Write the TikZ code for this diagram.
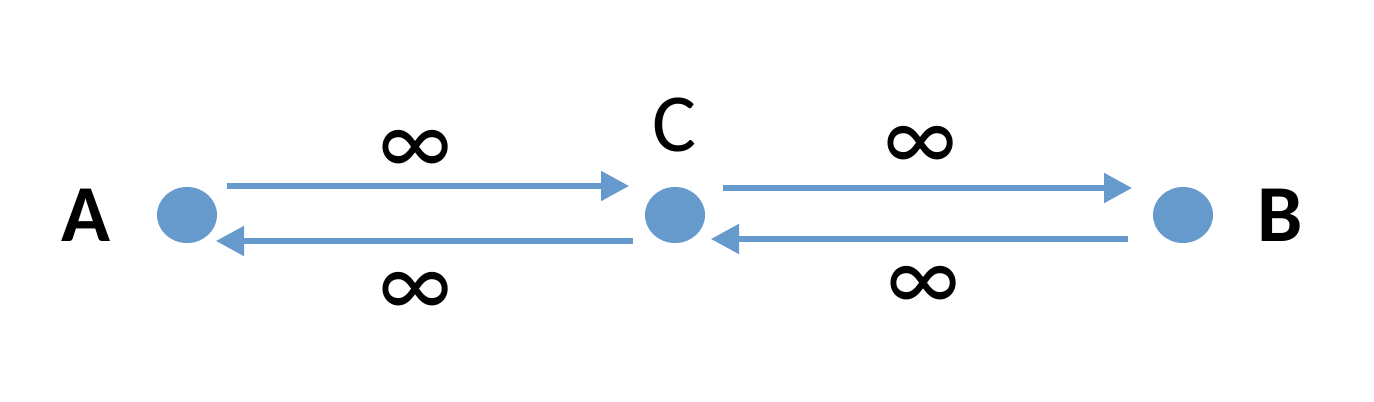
\documentclass[tikz,border=0pt]{standalone}
\usepackage{fontspec}
\setmainfont{Carlito}
\usetikzlibrary{arrows.meta,shapes.geometric}
\definecolor{dotblue}{HTML}{6699CC}

\begin{document}
\begin{tikzpicture}[inner sep=0pt,outer sep=0pt,
dot/.style={fill=dotblue,ellipse,minimum width=1.2cm,minimum height=1.12cm},
flow/.style={draw=dotblue,line width=2.85pt,-{Triangle[length=0.56cm,width=0.58cm]}},
lbl/.style={font=\fontsize{47}{50}\selectfont},
inf/.style={font=\fontsize{48}{50}\selectfont,yscale=1.25,transform shape}]

\useasboundingbox (0,0) rectangle (27.48,8.02);

\draw (3.74,3.72) node[dot] (a) {};
\draw (13.5,3.72) node[dot] (c) {};
\draw (23.66,3.72) node[dot] (b) {};

\draw (1.72,3.72) node[lbl,font=\fontsize{46}{50}\bfseries] (la) {A};
\draw (25.6,3.72) node[lbl,font=\fontsize{46}{50}\bfseries] (lb) {B};
\draw (13.5,5.52) node[lbl] (lc) {C};

\draw (8.3,4.95) node[inf] (i1) {∞};
\draw (8.3,2.12) node[inf] (i2) {∞};
\draw (18.4,5.04) node[inf] (i3) {∞};
\draw (18.46,2.24) node[inf] (i4) {∞};

% arrows between the dots
\draw[flow] ([yshift=.58cm]a.center) -- ([yshift=.58cm]c.center) [shorten <=.8cm,shorten >=.92cm];
\draw[flow] ([yshift=-.52cm]c.center) -- ([yshift=-.52cm]a.center) [shorten <=.84cm,shorten >=.58cm];
\draw[flow] ([yshift=.54cm]c.center) -- ([yshift=.54cm]b.center) [shorten <=.96cm,shorten >=1.02cm];
\draw[flow] ([yshift=-.48cm]b.center) -- ([yshift=-.48cm]c.center) [shorten <=1.1cm,shorten >=.72cm];

\end{tikzpicture}
\end{document}
